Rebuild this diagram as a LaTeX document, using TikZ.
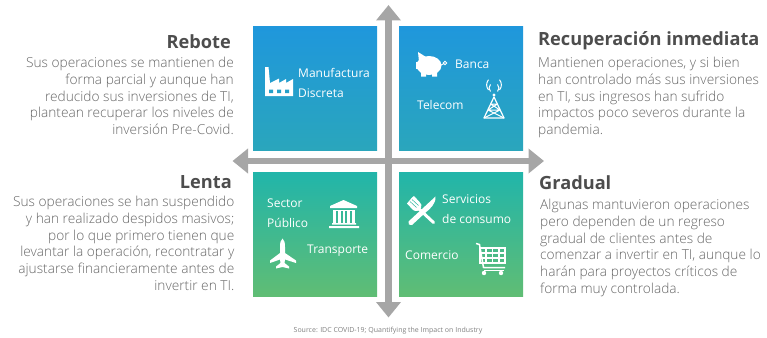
\documentclass[tikz,border=0pt]{standalone}
\usepackage{fontspec}
\setmainfont{Open Sans}
\newfontfamily\lightfont{Open Sans Light}
\usetikzlibrary{arrows.meta}
\definecolor{bluetop}{HTML}{1F97DC}
\definecolor{bluebot}{HTML}{2AA6BC}
\definecolor{greentop}{HTML}{21B5AA}
\definecolor{greenbot}{HTML}{60BD74}
\definecolor{axisgray}{HTML}{A6A6A6}
\definecolor{titlegray}{HTML}{4D4D4D}
\definecolor{bodygray}{HTML}{666666}
\definecolor{srcgray}{HTML}{808080}
\tikzset{
  x=1pt,y=-1pt,
  quad/.style={minimum width=124pt,minimum height=124pt,inner sep=0pt,anchor=north west},
  bluequad/.style={quad,top color=bluetop,bottom color=bluebot},
  greenquad/.style={quad,top color=greentop,bottom color=greenbot},
  axisline/.style={line width=6.2pt,axisgray,{Triangle[length=15.5pt,width=24pt]}-{Triangle[length=15.5pt,width=24pt]}},
  headtext/.style={font=\fontsize{18.2}{22}\selectfont\bfseries,text=titlegray,inner sep=0pt},
  bodytext/.style={font=\lightfont\fontsize{13.7}{16.7}\selectfont,text=bodygray,inner sep=0pt},
  quadlabel/.style={font=\fontsize{12}{14}\selectfont,text=white,inner sep=0pt,anchor=west},
  iconline/.style={white,line width=1.2pt},
}
\begin{document}
\begin{tikzpicture}
\useasboundingbox (0,0) rectangle (767,337);
% quadrants
\node[bluequad] (tl) at (253,26) {};
\node[bluequad] (tr) at (399,26) {};
\node[greenquad] (bl) at (253,172) {};
\node[greenquad] (br) at (399,172) {};
% axes
\coordinate (axtop) at (388.5,5);
\coordinate (axbot) at (388.5,317.5);
\coordinate (axleft) at (232.5,161);
\coordinate (axright) at (544,161);
\draw[axisline] (axtop) -- (axbot);
\draw[axisline] (axleft) -- (axright);
% headings and texts
\node[headtext,anchor=east] (hreb) at (231,42) {Rebote};
\node[headtext,anchor=east] (hlen) at (232,182) {Lenta};
\node[headtext,anchor=west] (hrec) at (538,41) {Recuperación inmediata};
\node[headtext,anchor=west] (hgra) at (539,183) {Gradual};
\node[bodytext,align=right,anchor=north east] (treb) at (234,57) {Sus operaciones se mantienen de\\forma parcial y aunque han\\reducido sus inversiones de TI,\\plantean recuperar los niveles de\\inversión Pre-Covid.};
\node[bodytext,align=right,anchor=north east] (tlen) at (234.5,196) {Sus operaciones se han suspendido\\y han realizado despidos masivos;\\por lo que primero tienen que\\levantar la operación, recontratar y\\ajustarse financieramente antes de\\invertir en TI.};
\node[bodytext,align=left,anchor=north west] (trec) at (538,57) {Mantienen operaciones, y si bien\\han controlado más sus inversiones\\en TI, sus ingresos han sufrido\\impactos poco severos durante la\\pandemia.};
\node[bodytext,align=left,anchor=north west] (tgra) at (540,199) {Algunas mantuvieron operaciones\\pero dependen de un regreso\\gradual de clientes antes de\\comenzar a invertir en TI, aunque lo\\harán para proyectos críticos de\\forma muy controlada.};
% quadrant labels
\node[quadlabel] (lman) at (298,73) {Manufactura};
\node[quadlabel] (ldis) at (298,93) {Discreta};
\node[quadlabel] (lban) at (455,64) {Banca};
\node[quadlabel] (ltel) at (417,105) {Telecom};
\node[quadlabel] (lsec) at (267,203) {Sector};
\node[quadlabel] (lpub) at (267,223) {Público};
\node[quadlabel] (ltra) at (307,251) {Transporte};
\node[quadlabel] (lser) at (442,199) {Servicios};
\node[quadlabel] (lcon) at (442,219) {de consumo};
\node[quadlabel] (lcom) at (405,255) {Comercio};
% source
\node[font=\fontsize{7}{8}\selectfont,text=srcgray,inner sep=0pt] (src) at (388,331) {Source: IDC COVID-19; Quantifying the Impact on Industry};
% factory
\fill[white] (265,67) -- (268.5,67) -- (270,83) -- (279,78.5) -- (279,83) -- (286,79) -- (286,83) -- (293,79) -- (293,96) -- (265,96) -- cycle;
\fill[bluebot!60!bluetop] (269,89.5) rectangle (273,93) (277,89.5) rectangle (281,93) (285,89.5) rectangle (289,93);
% piggy bank
\fill[white] (429,65.5) ellipse [x radius=12.5,y radius=9.5];
\fill[white] (418,52) -- (426,57) -- (419,62) -- cycle;
\fill[white] (416,62) rectangle (420,69);
\fill[white] (421,70) rectangle (426,76.5) (432,70) rectangle (437,76.5);
\draw[white,line width=0.9pt] (441,65) -- (444,63.5);
\draw[white,line width=0.9pt] (445,63) circle [radius=1.7];
% tower
\draw[iconline,line join=round] (494,97) -- (484,118) -- (504,118) -- cycle;
\draw[iconline,line width=1pt] (490.5,104) -- (497.5,104) (488,110) -- (500,110) (490.5,104) -- (500,110) (497.5,104) -- (488,110) (488,110) -- (504,118) (500,110) -- (484,118);
\fill[white] (494,95) circle [radius=1.7];
\draw[iconline,line width=1pt] (490.5,91.5) arc [start angle=135,end angle=225,radius=5] (497.5,91.5) arc [start angle=45,end angle=-45,radius=5];
\draw[iconline,line width=1pt] (488.5,90) arc [start angle=140,end angle=220,radius=8] (499.5,90) arc [start angle=40,end angle=-40,radius=8];
% bank
\fill[white] (343.5,200) -- (357,206) -- (357,208) -- (330,208) -- (330,206) -- cycle;
\fill[white] (333,209.5) rectangle (355,211);
\foreach \cx in {334.5,339.2,343.9,348.6,353.3}{\fill[white] (\cx-1.3,211) rectangle (\cx+1.3,222.5);}
\fill[white] (332,223) rectangle (356,224.5) (329,226) rectangle (359,228);
% plane
\fill[white] (282.5,238.5) .. controls (284.5,240) and (285,243) .. (285,247) -- (285,253) -- (296,260.5) -- (296,263) -- (285,259.5) -- (284.5,263) -- (289,266.5) -- (289,268.5) -- (282.5,267) -- (276,268.5) -- (276,266.5) -- (280.5,263) -- (280,259.5) -- (270,263) -- (270,260.5) -- (280,253) -- (280,247) .. controls (280,243) and (280.5,240) .. (282.5,238.5) -- cycle;
% knife and fork
\fill[white] (435.5,196.5) .. controls (436,204) and (430,209) .. (425,213) -- (412,225) .. controls (409.5,226) and (407.5,224) .. (408.5,221.5) -- cycle;
\draw[white,line width=3pt,line cap=round] (418.5,208.5) -- (433.5,222.5);
\fill[white] (412,197.5) -- (407,203.5) -- (413,210) .. controls (416,212) and (419,211) .. (421,208) .. controls (422,205.5) and (421.5,204) .. (419.5,202) -- (414,196) -- cycle;
\draw[greentop!80!greenbot,line width=.5pt] (410,201.5) -- (416.5,207.5) (412,199.5) -- (418.5,205.5);
% cart
\draw[white,line width=1.5pt,line join=round] (476,243.5) -- (479.5,244.5) -- (483.5,267.5) -- (505,267.5);
\draw[white,line width=1.5pt] (480,248) rectangle (505,263);
\draw[white,line width=1.1pt] (480,253) -- (505,253) (480,258) -- (505,258) (486,248) -- (486,263) (492.5,248) -- (492.5,263) (499,248) -- (499,263);
\fill[white] (483.5,270) rectangle (504,271);
\fill[white] (484,273) circle [radius=2.2] (501,273) circle [radius=2.2];
\end{tikzpicture}
\end{document}
